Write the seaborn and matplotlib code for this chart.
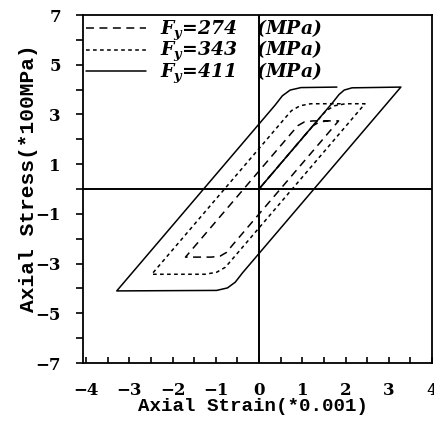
import numpy as np
import pandas as pd
import matplotlib
matplotlib.use("Agg")
import matplotlib.pyplot as plt
from matplotlib.ticker import MultipleLocator, FixedLocator
import seaborn as sns

# ---- data (strain *0.001, stress *100 MPa) ----
strain_274 = [0.0, 1.10, 1.25, 1.40, 1.60, 1.84, -0.61, -0.75, -0.90, -1.10, -1.70, 0.75, 0.90, 1.05, 1.25, 1.60]
stress_274 = [0.0, 2.25, 2.55, 2.70, 2.74, 2.74, -2.25, -2.55, -2.70, -2.74, -2.74, 2.25, 2.55, 2.70, 2.74, 2.74]

strain_343 = [0.0, 1.40, 1.55, 1.75, 2.00, 2.45, -0.63, -0.78, -0.98, -1.25, -2.48, 0.60, 0.75, 0.95, 1.20, 1.90]
stress_343 = [0.0, 2.85, 3.15, 3.35, 3.43, 3.43, -2.85, -3.15, -3.35, -3.43, -3.43, 2.85, 3.15, 3.35, 3.43, 3.43]

strain_411 = [0.0, 1.70, 1.85, 1.97, 2.15, 3.28, -0.38, -0.55, -0.73, -0.98, -3.29, 0.37, 0.54, 0.72, 0.97, 1.80]
stress_411 = [0.0, 3.47, 3.80, 3.98, 4.07, 4.10, -3.37, -3.75, -3.98, -4.08, -4.10, 3.37, 3.75, 3.98, 4.08, 4.10]

labels = [r"$F_y$=274   (MPa)", r"$F_y$=343   (MPa)", r"$F_y$=411   (MPa)"]
x_ticks = [-4, -3, -2, -1, 0, 1, 2, 3, 4]
y_ticks = [-7, -5, -3, -1, 1, 3, 5, 7]

sns.set_style("ticks")
plt.rcParams["font.family"] = ["DejaVu Serif", "DejaVu Sans"]
plt.rcParams["font.weight"] = "bold"
plt.rcParams["mathtext.fontset"] = "custom"
plt.rcParams["mathtext.it"] = "DejaVu Serif:italic:bold"
plt.rcParams["mathtext.rm"] = "DejaVu Serif:bold"
for k in ["text.color", "axes.labelcolor", "xtick.color", "ytick.color", "axes.edgecolor"]:
    plt.rcParams[k] = "black"

fig = plt.figure(figsize=(4.35, 4.24), dpi=100)
ax = fig.add_axes([83 / 435, 1 - 363 / 424, 349 / 435, 348 / 424])

series = [
    (strain_274, stress_274, labels[0], (0, (5.2, 3.6))),
    (strain_343, stress_343, labels[1], (0, (2.4, 2.2))),
    (strain_411, stress_411, labels[2], "-"),
]
for xs, ys, lab, ls in series:
    df = pd.DataFrame({"strain": xs, "stress": ys})
    sns.lineplot(data=df, x="strain", y="stress", ax=ax, sort=False, estimator=None,
                 color="black", linewidth=1.1, linestyle=ls, label=lab)

ax.axhline(0, color="black", lw=1.4, zorder=1)
ax.axvline(0, color="black", lw=1.4, zorder=1)

ax.set_xlim(-4.07, 4.0)
ax.set_ylim(-7, 7)
ax.xaxis.set_major_locator(FixedLocator(x_ticks))
ax.xaxis.set_minor_locator(MultipleLocator(0.5))
ax.yaxis.set_major_locator(FixedLocator(y_ticks))
ax.yaxis.set_minor_locator(MultipleLocator(1))
ax.tick_params(axis="x", which="both", direction="in", length=4, width=1.2, pad=14,
               labelsize=12, colors="black")
ax.tick_params(axis="y", which="both", direction="out", length=5, width=1.2, pad=11,
               labelsize=12, colors="black")
for lab in ax.get_xticklabels() + ax.get_yticklabels():
    lab.set_fontweight("bold")
for sp in ax.spines.values():
    sp.set_linewidth(1.3)
    sp.set_color("black")

ax.set_xlabel("Axial Strain(*0.001)", fontsize=13.8, fontweight="bold",
              family="Liberation Mono", color="black")
ax.set_ylabel("Axial Stress(*100MPa)", fontsize=15.3, fontweight="bold",
              family="Liberation Mono", color="black")
ax.xaxis.set_label_coords(0.487, -0.1)
ax.xaxis.label.set_va("top")
ax.yaxis.set_label_coords(-0.13, 0.53)

leg = ax.legend(loc="upper left", bbox_to_anchor=(0.0, 1.0), frameon=False,
                borderaxespad=0.0, borderpad=0.15, handlelength=3.2, handletextpad=0.75,
                labelspacing=-0.2,
                prop={"family": "DejaVu Serif", "style": "italic", "weight": "bold", "size": 13.5})
for line in leg.get_lines():
    line.set_linewidth(1.1)

fig.savefig("out.png", dpi=100)
